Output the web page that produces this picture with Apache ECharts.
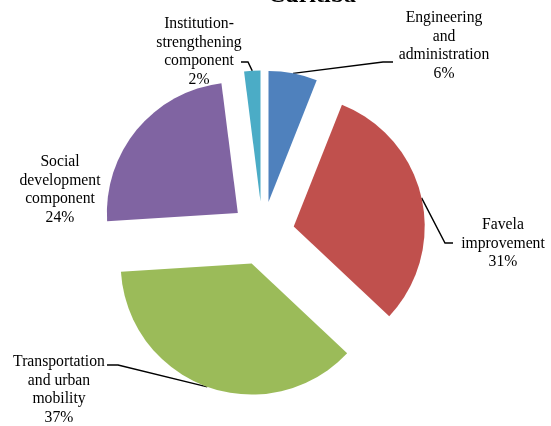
<!DOCTYPE html>
<html>
<head>
<meta charset="utf-8">
<script src="https://cdn.jsdelivr.net/npm/echarts@6/dist/echarts.min.js"></script>
<style>
  html, body { margin: 0; padding: 0; background: #fff; }
  #chart { width: 551px; height: 426px; }
</style>
</head>
<body>
<div id="chart"></div>
<script>
// Budget shares of the Curitiba programme, in percent
const categories = [
  'Engineering\nand\nadministration',
  'Favela\nimprovement',
  'Transportation\nand urban\nmobility',
  'Social\ndevelopment\ncomponent',
  'Institution-\nstrengthening\ncomponent'
];
const shares = [6, 31, 37, 24, 2];
const colors = ['#4F81BD', '#C0504D', '#9BBB59', '#8064A2', '#4BACC6'];

// Pie geometry and callout placement
const pieCenter = [262.5, 233.5];
const pieRadius = 131;
const explode = 32;
const labelPlacement = [
  { x: 444, y: 46,  elbow: [383, 62],  end: [393, 62] },
  { x: 503, y: 243.5, elbow: [445, 243], end: [453, 243] },
  { x: 59,  y: 390, elbow: [118, 365], end: [107, 365] },
  { x: 60,  y: 190, elbow: null, end: null },
  { x: 199, y: 52,  elbow: [248, 62],  end: [241, 62] }
];

const total = shares.reduce((a, b) => a + b, 0);
const font = 'Liberation Serif, Times New Roman, serif';

// Each slice is its own pie series, pushed out along its mid-angle
let cum = 0;
const series = shares.map((v, i) => {
  const mid = (cum + v / 2) / total * 2 * Math.PI;
  cum += v;
  const cx = pieCenter[0] + explode * Math.sin(mid);
  const cy = pieCenter[1] - explode * Math.cos(mid);
  const place = labelPlacement[i];
  return {
    type: 'pie',
    silent: true,
    animation: false,
    center: [cx, cy],
    radius: pieRadius,
    startAngle: 90,
    clockwise: true,
    avoidLabelOverlap: false,
    data: shares.map((val, j) => ({
      name: categories[j],
      value: val,
      itemStyle: j === i ? { color: colors[j] } : { color: 'rgba(0,0,0,0)' },
      label: { show: j === i },
      labelLine: { show: j === i && place.elbow !== null }
    })),
    label: {
      position: 'outside',
      formatter: p => p.name + '\n' + Math.round(p.percent) + '%',
      fontFamily: font,
      fontSize: 15.7,
      lineHeight: 18.5,
      color: '#000',
      align: 'center'
    },
    labelLine: {
      lineStyle: { color: '#000', width: 1.4 },
      length: 10,
      length2: 10
    },
    labelLayout: params => {
      if (params.dataIndex !== i) return {};
      const out = { x: place.x, y: place.y, align: 'center', verticalAlign: 'middle' };
      if (place.elbow && params.labelLinePoints) {
        out.labelLinePoints = [params.labelLinePoints[0], place.elbow, place.end];
      }
      return out;
    }
  };
});

const chart = echarts.init(document.getElementById('chart'), null, { renderer: 'canvas' });
chart.setOption({
  backgroundColor: '#fff',
  animation: false,
  title: {
    text: 'Curitiba',
    left: 263,
    top: -21,
    textStyle: { fontFamily: font, fontSize: 24, fontWeight: 'bold', color: '#000' }
  },
  series: series
});
</script>
</body>
</html>
